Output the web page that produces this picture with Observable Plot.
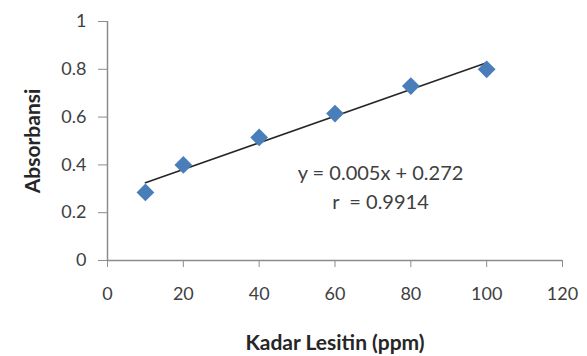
<!DOCTYPE html>
<html>
<head>
<meta charset="utf-8">
<script src="https://cdn.jsdelivr.net/npm/d3@7"></script>
<script src="https://cdn.jsdelivr.net/npm/@observablehq/plot@0.6"></script>
<style>
  html, body { margin: 0; padding: 0; background: #fff; }
</style>
</head>
<body>
<div id="chart"></div>
<script>
const kadar = [10, 20, 40, 60, 80, 100];
const absorbansi = [0.285, 0.40, 0.515, 0.615, 0.73, 0.80];
const xTicks = [0, 20, 40, 60, 80, 100, 120];
const yTicks = [0, 0.2, 0.4, 0.6, 0.8, 1];
const equationLines = ["y = 0.005x + 0.272", "r  = 0.9914"];
const xTitle = "Kadar Lesitin (ppm)";
const yTitle = "Absorbansi";

const data = kadar.map((x, i) => ({x, y: absorbansi[i]}));
const font = "Lato, 'Open Sans', sans-serif";
const axisColor = "#8c8c8c";
const textColor = "#404040";

const chart = Plot.plot({
  width: 587,
  height: 356,
  marginLeft: 107,
  marginRight: 25,
  marginTop: 21,
  marginBottom: 96,
  style: {fontFamily: font, fontSize: "18px", color: textColor, background: "#fff"},
  x: {domain: [0, 120], ticks: xTicks, label: null},
  y: {domain: [0, 1], ticks: yTicks, label: null},
  marks: [
    Plot.ruleY([0], {stroke: axisColor, strokeWidth: 1.5}),
    Plot.ruleX([0], {stroke: axisColor, strokeWidth: 1.5}),
    Plot.axisX({ticks: xTicks, tickSize: 7, tickPadding: 20, stroke: axisColor, fill: textColor, tickFormat: d => String(d), fontSize: 18}),
    Plot.axisY({ticks: yTicks, tickSize: 9, tickPadding: 12, stroke: axisColor, fill: textColor, tickFormat: d => String(+d.toFixed(1)), fontSize: 18}),
    Plot.linearRegressionY(data, {x: "x", y: "y", ci: 0, stroke: "#262626", strokeWidth: 1.6}),
    Plot.dot(data, {x: "x", y: "y", symbol: "diamond2", r: 8, fill: "#4a7ebb", stroke: "none"}),
    Plot.text([equationLines.join("\n")], {x: 72, y: 0.314, text: d => d, fill: textColor, fontSize: 20, lineHeight: 1.45, textAnchor: "middle", frameAnchor: "middle"}),
    Plot.text([xTitle], {x: 60, y: 0, dy: 83, text: d => d, fill: "#262626", fontWeight: "bold", fontSize: 21}),
    Plot.text([yTitle], {x: 0, y: 0.5, dx: -74, rotate: -90, text: d => d, fill: "#262626", fontWeight: "bold", fontSize: 21})
  ]
});
document.getElementById("chart").appendChild(chart);
</script>
</body>
</html>
